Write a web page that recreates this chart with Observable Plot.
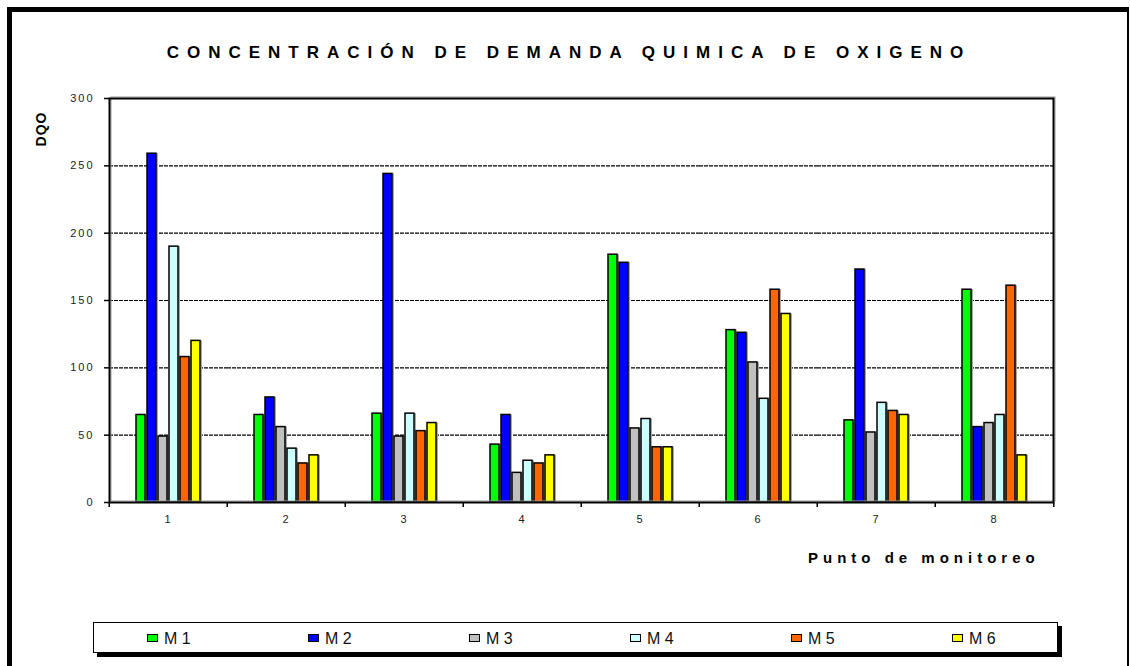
<!DOCTYPE html>
<html>
<head>
<meta charset="utf-8">
<script src="https://cdn.jsdelivr.net/npm/d3@7"></script>
<script src="https://cdn.jsdelivr.net/npm/@observablehq/plot@0.6"></script>
<style>
html, body { margin: 0; padding: 0; background: #fff; overflow: hidden; }
#page { position: relative; width: 1130px; height: 666px; overflow: hidden; font-family: "Liberation Sans", Arial, sans-serif; color: #000; }
#border { position: absolute; left: 7px; top: 7px; width: 1122px; height: 760px; box-sizing: border-box;
  border-left: 5px solid #000; border-top: 5px solid #000; border-right: 2px solid #000; }
#title { position: absolute; left: 0; width: 1130px; top: 44px; text-align: center; font-weight: bold;
  font-size: 17px; line-height: 18px; letter-spacing: 8px; padding-left: 8px; box-sizing: border-box; white-space: nowrap; }
#chart { position: absolute; left: 0; top: 70px; }
#ylabel { position: absolute; left: 41px; top: 129px; transform: translate(-50%, -50%) rotate(-90deg);
  font-weight: bold; font-size: 14px; line-height: 16px; letter-spacing: 1px; white-space: nowrap; }
#xlabel { position: absolute; left: 808px; top: 549px; font-weight: bold; font-size: 15px; line-height: 17px;
  letter-spacing: 5px; white-space: nowrap; }
#legend { position: absolute; left: 93px; top: 622px; width: 965px; height: 31px; box-sizing: border-box;
  border: 1px solid #000; background: #fff; box-shadow: 4px 4px 0 #000; }
#legend .item { position: absolute; top: 0; height: 29px; }
#legend .sw { position: absolute; left: 0; top: 11px; width: 11px; height: 8px; box-sizing: border-box; border: 1.5px solid #000; }
#legend .lb { position: absolute; left: 17px; top: 1px; line-height: 29px; font-size: 16px; white-space: nowrap; color: #111; }
</style>
</head>
<body>
<div id="page">
  <div id="border"></div>
  <div id="title">CONCENTRACIÓN DE DEMANDA QUIMICA DE OXIGENO</div>
  <div id="chart"></div>
  <div id="ylabel">DQO</div>
  <div id="xlabel">Punto de monitoreo</div>
  <div id="legend"></div>
</div>
<script>
// ---- data ----
const groups = ["1", "2", "3", "4", "5", "6", "7", "8"];
const series = ["M1", "M2", "M3", "M4", "M5", "M6"];
const seriesLabels = ["M 1", "M 2", "M 3", "M 4", "M 5", "M 6"];
const colors = ["#00FF00", "#0000FF", "#C0C0C0", "#CCFFFF", "#FF6600", "#FFFF00"];
const M1 = [65, 65, 66, 43, 184, 128, 61, 158];
const M2 = [259, 78, 244, 65, 178, 126, 173, 56];
const M3 = [49, 56, 49, 22, 55, 104, 52, 59];
const M4 = [190, 40, 66, 31, 62, 77, 74, 65];
const M5 = [108, 29, 53, 29, 41, 158, 68, 161];
const M6 = [120, 35, 59, 35, 41, 140, 65, 35];
const yTicks = [0, 50, 100, 150, 200, 250, 300];
const gridValues = [50, 100, 150, 200, 250];

const seriesValues = [M1, M2, M3, M4, M5, M6];
const rows = groups.flatMap((g, i) => series.map((s, j) => ({ group: g, series: s, value: seriesValues[j][i] })));

// ---- layout ----
const W = 1130, H = 470, mL = 107, mR = 75, mT = 28, mB = 38;
const fw = (W - mL - mR) / groups.length;

const chart = Plot.plot({
  width: W, height: H,
  marginLeft: mL, marginRight: mR, marginTop: mT, marginBottom: mB,
  style: { fontFamily: '"Liberation Sans", Arial, sans-serif', fontSize: "11px", color: "#222", background: "transparent", overflow: "visible", letterSpacing: "2px" },
  fx: { domain: groups, padding: 0, label: null },
  x: { domain: series, paddingInner: 0.17, paddingOuter: 2.02, axis: null },
  y: { domain: [0, 300] },
  color: { domain: series, range: colors },
  marks: [
    Plot.ruleY(gridValues, { stroke: "#000", strokeWidth: 1.2, strokeDasharray: "4,1" }),
    Plot.barY(rows, { fx: "group", x: "series", y: "value", fill: "#a8a8a8", dx: 2 }),
    Plot.barY(rows, { fx: "group", x: "series", y: "value", fill: "series", stroke: "#000", strokeWidth: 1.5 }),
    Plot.frame({ facet: "super", stroke: "#999", strokeWidth: 1, dx: 1.5, dy: -1.5 }),
    Plot.frame({ facet: "super", stroke: "#000", strokeWidth: 2 }),
    Plot.axisY({ ticks: yTicks, tickSize: 5, tickPadding: 10, label: null, stroke: "#000", strokeWidth: 1.5, fill: "#222" }),
    Plot.axisFx({ anchor: "bottom", tickSize: 0, tickPadding: 13, label: null, fill: "#222" }),
    Plot.axisFx({ anchor: "bottom", tickSize: 5, tickFormat: () => "", dx: -fw / 2, label: null, stroke: "#000", strokeWidth: 1.5 }),
    Plot.axisFx({ anchor: "bottom", ticks: [groups[groups.length - 1]], tickSize: 5, tickFormat: () => "", dx: fw / 2, label: null, stroke: "#000", strokeWidth: 1.5 })
  ]
});
document.getElementById("chart").appendChild(chart);

// ---- legend (from the same series / colour arrays) ----
const legend = document.getElementById("legend");
series.forEach((s, i) => {
  const item = document.createElement("div");
  item.className = "item";
  item.style.left = (53 + i * 161) + "px";
  const sw = document.createElement("div");
  sw.className = "sw";
  sw.style.background = colors[i];
  const lb = document.createElement("span");
  lb.className = "lb";
  lb.textContent = seriesLabels[i];
  item.appendChild(sw);
  item.appendChild(lb);
  legend.appendChild(item);
});
</script>
</body>
</html>
